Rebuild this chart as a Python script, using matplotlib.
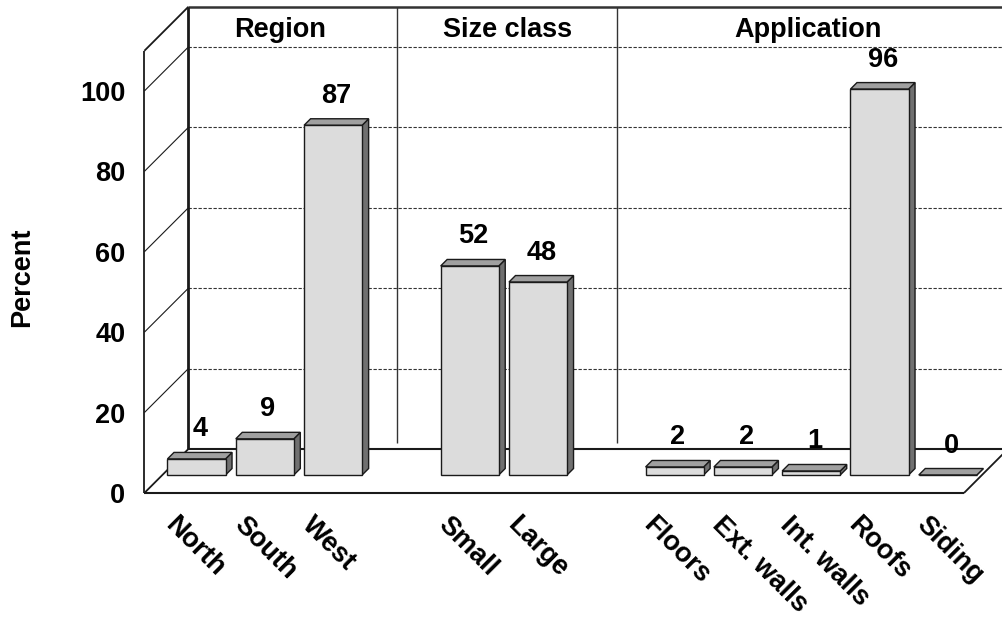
import matplotlib
matplotlib.use("Agg")
import matplotlib.pyplot as plt
from matplotlib.patches import Polygon

plt.rcParams['font.family'] = ['Liberation Sans', 'DejaVu Sans']
plt.rcParams['font.weight'] = 'bold'

# ---- data -------------------------------------------------------------
group_names = ["Region", "Size class", "Application"]
group_sizes = [3, 2, 5]
categories = ["North", "South", "West", "Small", "Large",
              "Floors", "Ext. walls", "Int. walls", "Roofs", "Siding"]
values = [4, 9, 87, 52, 48, 2, 2, 1, 96, 0]
ytick_values = [0, 20, 40, 60, 80, 100]
y_top = 110

# ---- layout -----------------------------------------------------------
# one empty slot separates neighbouring groups
positions = []
slot = 0
for n in group_sizes:
    for _ in range(n):
        positions.append(slot)
        slot += 1
    slot += 1
n_slots = slot - 1
left_edge, right_edge = -0.5, n_slots - 0.5

W, H = 1003, 619
fig = plt.figure(figsize=(W / 100, H / 100), dpi=100)
ax = fig.add_axes([0, 0, 1, 1])
ax.set_xlim(-2.877, 11.808)
ax.set_ylim(-35.82, 118.16)
ax.axis('off')

# pixels per slot / per percentage point, taken from the axes scale
x0d, y0d = ax.transData.transform((0, 0))
x1d, y1d = ax.transData.transform((1, 1))
sx, sy = x1d - x0d, y1d - y0d

BACK = 26      # depth of the back wall (px, towards upper right)
FRONT = -18    # depth of the front floor edge
BAR_D = 6.5    # depth of each bar
BAR_W = 0.85


def proj(p, v, d):
    """Oblique projection: shift a point by depth d pixels up and right."""
    return (p + d / sx, v + d / sy)


def seg(a, b, **kw):
    ax.plot([a[0], b[0]], [a[1], b[1]], solid_capstyle='butt', **kw)


frame = dict(color='#1a1a1a')

# back wall gridlines
for v in ytick_values[1:]:
    seg(proj(left_edge, v, BACK), proj(right_edge, v, BACK), color='#333333',
        lw=0.8, ls=(0, (3, 1.5)), zorder=1)

# group dividers on the back wall
divider_pos = [2.55, 5.77]
for dp in divider_pos:
    seg(proj(dp, 1.5, BACK), proj(dp, y_top, BACK), color='#333333', lw=1.0, zorder=1)

# back wall outline
seg(proj(left_edge, y_top, BACK), proj(right_edge + 1, y_top, BACK), color='#333333', lw=1.8, zorder=2)
seg(proj(left_edge, 0, BACK), proj(left_edge, y_top, BACK), lw=2.0, zorder=2, **frame)
seg(proj(left_edge, 0, BACK), proj(right_edge, 0, BACK), lw=1.5, zorder=2, **frame)

# side wall
seg(proj(left_edge, 0, FRONT), proj(left_edge, y_top, FRONT), lw=1.3, zorder=2, **frame)
for v in ytick_values[1:]:
    seg(proj(left_edge, v, FRONT), proj(left_edge, v, BACK), lw=0.8, zorder=2, **frame)
seg(proj(left_edge, y_top, FRONT), proj(left_edge, y_top, BACK), lw=1.3, zorder=2, **frame)

# floor
seg(proj(left_edge, 0, FRONT), proj(left_edge, 0, BACK), lw=1.3, zorder=2, **frame)
seg(proj(left_edge, 0, FRONT), proj(right_edge, 0, FRONT), lw=1.5, zorder=2, **frame)
seg(proj(right_edge, 0, FRONT), proj(right_edge, 0, BACK), lw=1.3, zorder=2, **frame)

# bars
face_front, face_top, face_side = '#dcdcdc', '#a0a0a0', '#707070'
for p, v, name in zip(positions, values, categories):
    a, b = p - BAR_W / 2, p + BAR_W / 2
    front = [proj(a, 0, 0), proj(b, 0, 0), proj(b, v, 0), proj(a, v, 0)]
    top = [proj(a, v, 0), proj(b, v, 0), proj(b, v, BAR_D), proj(a, v, BAR_D)]
    side = [proj(b, 0, 0), proj(b, 0, BAR_D), proj(b, v, BAR_D), proj(b, v, 0)]
    for pts, fc in ((side, face_side), (top, face_top), (front, face_front)):
        ax.add_patch(Polygon(pts, closed=True, facecolor=fc, edgecolor='#1a1a1a',
                             lw=1.0, joinstyle='miter', zorder=5))
    lx = proj(p, v, BAR_D / 2)[0]
    ly = proj(p, v, BAR_D)[1] + 16 / sy
    ax.text(lx, ly, f"{v}", ha='center', va='baseline', fontsize=19.5,
            fontweight='bold', zorder=6)
    ax.text(p - 32 / sx, -51 / sy, name, rotation=-45, rotation_mode='anchor',
            ha='left', va='baseline', fontsize=19.5, fontweight='bold', zorder=6)

# y tick labels on the front edge of the side wall
for v in ytick_values:
    tx, ty = proj(left_edge, v, FRONT)
    ax.text(tx - 19 / sx, ty - 10 / sy, f"{v}", ha='right', va='baseline',
            fontsize=19.5, fontweight='bold')

# group titles
title_pos = [0.85, 4.18, 8.57]
for tp, gname in zip(title_pos, group_names):
    tx, ty = proj(tp, 102.5, BACK)
    ax.text(tx, ty, gname, ha='center', va='baseline', fontsize=19.5, fontweight='bold')

fig.text(22 / W, 1 - 277 / H, "Percent", rotation=90, ha='center', va='center',
         fontsize=19.5, fontweight='bold')

fig.savefig("out.png", dpi=100, facecolor='white')
